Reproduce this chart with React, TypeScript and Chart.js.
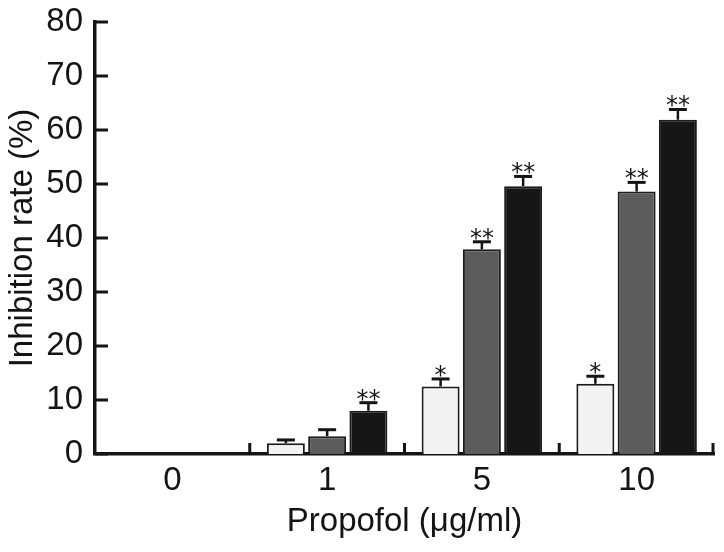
import React, { useEffect, useRef } from "react";
import { Chart, registerables } from "chart.js";

Chart.register(...registerables);

const categories = ["0", "1", "5", "10"];
const seriesNames = ["Group 1", "Group 2", "Group 3"];
const whiteValues = [0, 2.0, 12.5, 13.0];
const whiteErrors = [0, 0.6, 1.4, 1.4];
const grayValues = [0, 3.3, 37.9, 48.6];
const grayErrors = [0, 1.2, 1.4, 1.7];
const blackValues = [0, 8.0, 49.6, 61.9];
const blackErrors = [0, 1.5, 1.8, 1.9];
const whiteStars = ["", "", "*", "*"];
const grayStars = ["", "", "**", "**"];
const blackStars = ["", "**", "**", "**"];
const yTicks = [0, 10, 20, 30, 40, 50, 60, 70, 80];

const FONT = "'Liberation Sans', Arial, Helvetica, sans-serif";
const INK = "#141414";

const errorPlugin = {
  id: "errorBarsAndTicks",
  afterDatasetsDraw(chart: any) {
    const ctx = chart.ctx;
    const yScale = chart.scales.y;
    const xScale = chart.scales.x;
    const area = chart.chartArea;
    ctx.save();
    chart.data.datasets.forEach((ds: any, di: number) => {
      const meta = chart.getDatasetMeta(di);
      meta.data.forEach((bar: any, i: number) => {
        const err = ds.errors[i];
        const v = ds.data[i];
        if (!err) return;
        const x = bar.x;
        const y0 = yScale.getPixelForValue(v);
        const y1 = yScale.getPixelForValue(v + err);
        ctx.strokeStyle = INK;
        ctx.lineWidth = 2.5;
        ctx.beginPath();
        ctx.moveTo(x, y0);
        ctx.lineTo(x, y1);
        ctx.stroke();
        ctx.lineWidth = 3;
        ctx.beginPath();
        ctx.moveTo(x - 9, y1);
        ctx.lineTo(x + 9, y1);
        ctx.stroke();
        const s = ds.stars[i];
        if (s) {
          ctx.fillStyle = INK;
          ctx.font = "24px 'DejaVu Sans', sans-serif";
          ctx.textAlign = "center";
          ctx.textBaseline = "alphabetic";
          ctx.fillText(s, x, y1 + 4);
        }
      });
    });
    ctx.strokeStyle = INK;
    ctx.lineWidth = 3;
    yTicks.forEach((t) => {
      const y = yScale.getPixelForValue(t);
      ctx.beginPath();
      ctx.moveTo(area.left, y);
      ctx.lineTo(area.left + 13, y);
      ctx.stroke();
    });
    const n = categories.length;
    for (let i = 1; i <= n; i++) {
      let x;
      if (i < n) x = (xScale.getPixelForTick(i - 1) + xScale.getPixelForTick(i)) / 2;
      else x = area.right - 1;
      ctx.beginPath();
      ctx.moveTo(x, area.bottom);
      ctx.lineTo(x, area.bottom - 11);
      ctx.stroke();
    }
    ctx.restore();
  },
};

export default function App() {
  const ref = useRef<HTMLCanvasElement>(null);
  useEffect(() => {
    if (!ref.current) return;
    const mk = (label: string, data: number[], errors: number[], stars: string[], bg: string) => ({
      label,
      data,
      errors,
      stars,
      backgroundColor: bg,
      borderColor: "#1c1c1c",
      borderWidth: 2,
      borderSkipped: "bottom",
      categoryPercentage: 0.8,
      barPercentage: 0.92,
    });
    const chart = new Chart(ref.current, {
      type: "bar",
      data: {
        labels: categories,
        datasets: [
          mk(seriesNames[0], whiteValues, whiteErrors, whiteStars, "#f3f3f3"),
          mk(seriesNames[1], grayValues, grayErrors, grayStars, "#5c5c5c"),
          mk(seriesNames[2], blackValues, blackErrors, blackStars, "#161616"),
        ] as any,
      },
      options: {
        responsive: false,
        animation: false,
        layout: { padding: { top: 22, right: 10, left: 0, bottom: 0 } },
        plugins: { legend: { display: false }, tooltip: { enabled: false } },
        scales: {
          x: {
            grid: { display: false, drawTicks: false },
            border: { display: true, color: INK, width: 3.5 },
            ticks: { color: INK, font: { family: FONT, size: 33 }, padding: 7 },
            title: {
              display: true,
              text: "Propofol (μg/ml)",
              color: INK,
              font: { family: FONT, size: 33 },
              padding: { top: 0, bottom: 10 },
            },
            afterFit: (s: any) => {
              s.height = 98;
              s.paddingLeft = 0;
              s.paddingRight = 0;
            },
          },
          y: {
            min: 0,
            max: 80,
            afterBuildTicks: (s: any) => {
              s.ticks = yTicks.map((v) => ({ value: v }));
            },
            grid: { display: false, drawTicks: false },
            border: { display: true, color: INK, width: 3.5 },
            ticks: { color: INK, font: { family: FONT, size: 33 }, padding: 12 },
            title: {
              display: true,
              text: "Inhibition rate (%)",
              color: INK,
              font: { family: FONT, size: 33 },
              padding: { top: 3, bottom: 0 },
            },
            afterFit: (s: any) => {
              s.width = 95;
              s.paddingTop = 0;
              s.paddingBottom = 0;
            },
          },
        },
      },
      plugins: [errorPlugin],
    });
    return () => chart.destroy();
  }, []);
  return (
    <div style={{ position: "fixed", left: 0, top: 0, width: 724, height: 552, background: "#fff" }}>
      <canvas ref={ref} width={724} height={552} />
    </div>
  );
}
